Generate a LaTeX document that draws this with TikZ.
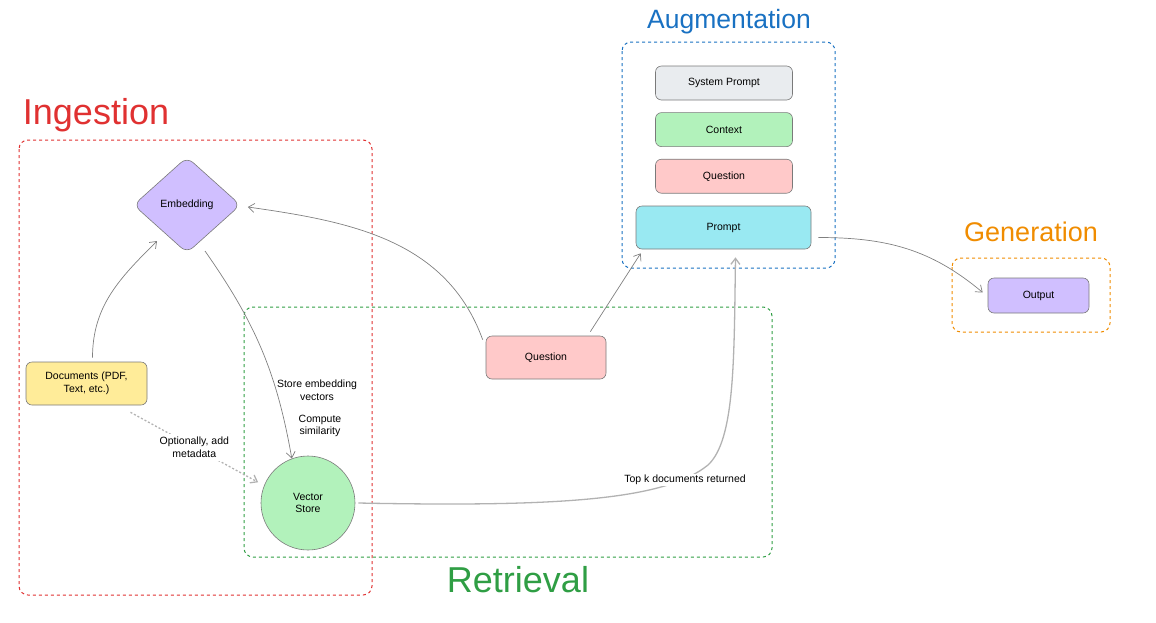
\documentclass[tikz,border=0pt]{standalone}
\usepackage{fontspec}
\setmainfont{Liberation Sans}
\usepackage{tikz}
\usetikzlibrary{shapes.geometric, arrows.meta, positioning}

\definecolor{ingestred}{HTML}{E03131}
\definecolor{retrievegreen}{HTML}{2F9E44}
\definecolor{augmentblue}{HTML}{1971C2}
\definecolor{generateorange}{HTML}{F08C00}
\definecolor{purplefill}{HTML}{D0BFFF}
\definecolor{yellowfill}{HTML}{FFEC99}
\definecolor{greenfill}{HTML}{B2F2BB}
\definecolor{redfill}{HTML}{FFC9C9}
\definecolor{grayfill}{HTML}{E9ECEF}
\definecolor{cyanfill}{HTML}{99E9F2}
\definecolor{edgegray}{HTML}{7A7A7A}
\definecolor{arrowgray}{HTML}{808080}

\begin{document}
\begin{tikzpicture}[x=1pt, y=1pt,
    box/.style={draw=edgegray, line width=0.6pt, rounded corners=6pt, align=center, font=\fontsize{10.5}{12.5}\selectfont},
    group/.style={dashed, rounded corners=9pt, line width=1pt},
    title/.style={font=\fontsize{#1}{#1}\selectfont},
    flow/.style={-{Straight Barb[length=6pt, width=9pt]}, draw=arrowgray, line width=0.7pt},
    lbl/.style={align=center, font=\fontsize{10.5}{12.5}\selectfont}]
    \useasboundingbox (0,0) rectangle (1156,-622);

    % Ingestion
    \draw[group, ingestred] (19,-140) rectangle (372,-595);
    \node[title=36, text=ingestred] (ingesttitle) at (96,-115) {Ingestion};
    \node[box, diamond, fill=purplefill, minimum width=107, minimum height=96, rounded corners=8pt] (embed) at (187,-205) {Embedding};
    \node[box, fill=yellowfill, minimum width=121, minimum height=43] (docs) at (86.5,-383.5) {Documents (PDF,\\ Text, etc.)};

    % Retrieval
    \draw[group, retrievegreen] (244,-307) rectangle (772,-557);
    \node[title=36, text=retrievegreen] (retrievetitle) at (518,-580) {Retrieval};
    \node[box, circle, fill=greenfill, minimum size=94] (store) at (308,-503) {Vector\\ Store};
    \node[box, fill=redfill, minimum width=120, minimum height=43] (query) at (546,-357.5) {Question};

    % Augmentation
    \draw[group, augmentblue] (622,-42) rectangle (835,-268);
    \node[title=26.5, text=augmentblue] (augtitle) at (729,-22) {Augmentation};
    \node[box, fill=grayfill, minimum width=137, minimum height=34] (sysprompt) at (724,-83) {System Prompt};
    \node[box, fill=greenfill, minimum width=137, minimum height=34, below=12pt of sysprompt] (context) {Context};
    \node[box, fill=redfill, minimum width=137, minimum height=34, below=12pt of context] (augquery) {Question};
    \node[box, fill=cyanfill, minimum width=175, minimum height=43] (prompt) at (723.5,-227.5) {Prompt};

    % Generation
    \draw[group, generateorange] (952,-258) rectangle (1110,-332);
    \node[title=27, text=generateorange] (gentitle) at (1031,-232) {Generation};
    \node[box, fill=purplefill, minimum width=101, minimum height=35] (output) at (1038.5,-295.5) {Output};

    % connectors
    \draw[flow] ([shift={(6,4)}]docs.north) to[out=90, in=-135] ([shift={(-30,-36)}]embed.center);
    \draw[flow] ([shift={(18,-46)}]embed.center) to[out=-55, in=100] (store.110);
    \node[lbl] (storelbl) at (317,-390) {Store embedding\\ vectors};
    \node[lbl] (simlbl) at (320,-426) {Compute\\ similarity};
    \draw[flow, dash pattern=on 2pt off 2pt, draw=black!30, line width=1.3pt] ([shift={(44,-7)}]docs.south) -- node[lbl, fill=white] (metalbl) {Optionally, add\\ metadata} ([shift={(-6,3)}]store.158);
    \draw[flow] ([shift={(-3,-4)}]query.north west) to[out=110, in=-8] ([shift={(7,-2)}]embed.east);
    \draw[flow] ([shift={(-16,4)}]query.north east) -- ([shift={(5,-4)}]prompt.south west);
    \draw[flow, draw=black!30, line width=1.3pt] ([xshift=3]store.east) .. controls (560,-507) and (665,-500) .. (708,-465) .. controls (735,-440) and (734,-360) .. ([shift={(12,-8)}]prompt.south);
    \node[lbl, fill=white, inner sep=1pt] (toplbl) at (685,-480) {Top k documents returned};
    \draw[flow] ([shift={(7,-10)}]prompt.east) to[out=0, in=140] ([shift={(-5,3)}]output.west);
\end{tikzpicture}
\end{document}
